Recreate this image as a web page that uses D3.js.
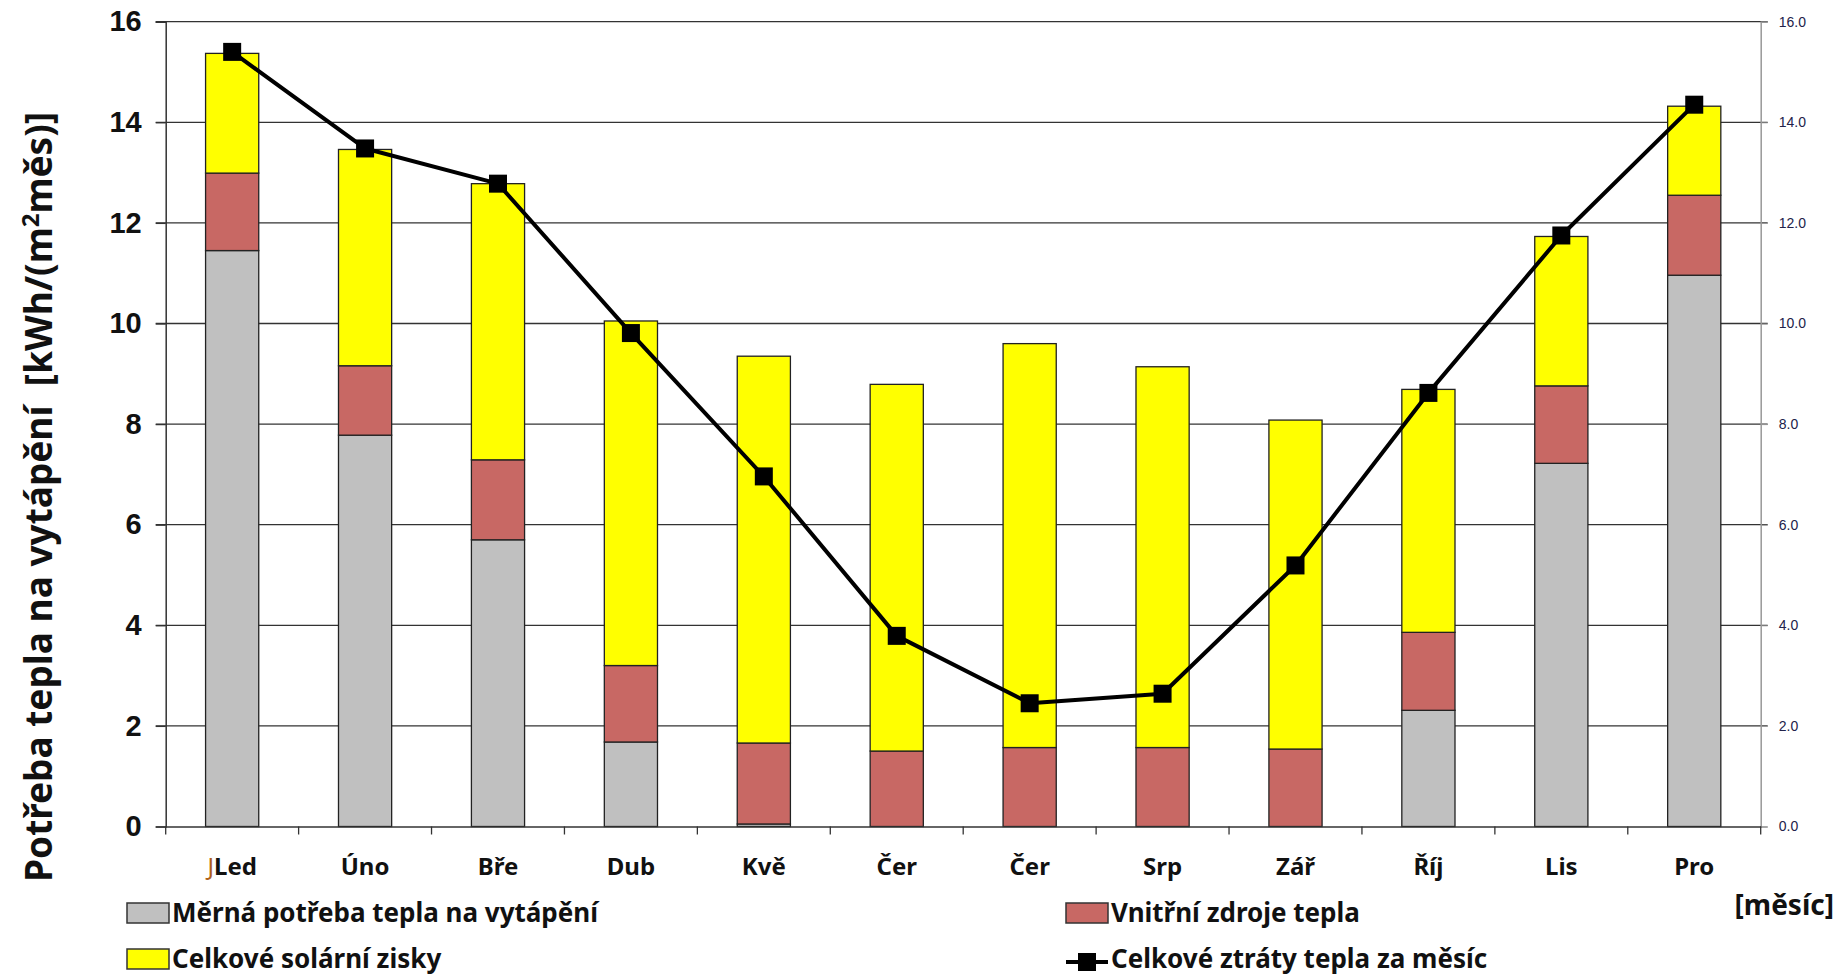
<!DOCTYPE html>
<html><head><meta charset="utf-8">
<script src="https://cdnjs.cloudflare.com/ajax/libs/d3/7.8.5/d3.min.js"></script>
<style>
html,body{margin:0;padding:0;background:#fff;}
svg{display:block;}
</style></head>
<body>
<svg id="chart" width="1841" height="979"></svg>
<script>
// ---- data ----
const months = ["Led","Úno","Bře","Dub","Kvě","Čer","Čer","Srp","Zář","Říj","Lis","Pro"];
const heatDemand = [11.45, 7.78, 5.70, 1.68, 0.05, 0, 0, 0, 0, 2.31, 7.22, 10.96];
const internalGains = [1.54, 1.38, 1.59, 1.52, 1.61, 1.50, 1.57, 1.57, 1.54, 1.55, 1.54, 1.59];
const solarGains = [2.38, 4.30, 5.49, 6.85, 7.69, 7.29, 8.03, 7.57, 6.54, 4.83, 2.97, 1.77];
const totalLosses = [15.40, 13.48, 12.78, 9.81, 6.96, 3.79, 2.45, 2.64, 5.19, 8.62, 11.75, 14.35];
const leftTicks = [0, 2, 4, 6, 8, 10, 12, 14, 16];
const rightTicks = [0, 2, 4, 6, 8, 10, 12, 14, 16];
const seriesNames = ["Měrná potřeba tepla na vytápění", "Vnitřní zdroje tepla", "Celkové solární zisky", "Celkové ztráty tepla za měsíc"];
const seriesColors = ["#C0C0C0", "#C86864", "#FFFF00", "#000000"];

(function(){
// ---- layout ----
const svg = d3.select("#chart");
const pL = 165.7, pR = 1760.7, pT = 21.7, pB = 826.5;
const narrow = "'Liberation Sans Narrow','Arial Narrow','Noto Sans',sans-serif";
const arial = "'Liberation Sans',Arial,sans-serif";

const idx = d3.range(months.length);
const x = d3.scaleBand().domain(idx).range([pL, pR]).padding(0);
const y = d3.scaleLinear().domain([0, 16]).range([pB, pT]);
const y2 = d3.scaleLinear().domain([0, 16]).range([pB, pT]);
const barW = x.bandwidth() * 0.4;

// gridlines
svg.append("g").selectAll("line").data(leftTicks.slice(1)).join("line")
  .attr("x1", pL - 10).attr("x2", pR + 7)
  .attr("y1", d => y(d)).attr("y2", d => y(d))
  .attr("stroke", "#333").attr("stroke-width", 1.3);

// stacked bars
const stackData = idx.map(i => ({i, a: heatDemand[i], b: internalGains[i], c: solarGains[i]}));
const stack = d3.stack().keys(["a","b","c"])(stackData);
svg.append("g").selectAll("g").data(stack).join("g")
  .attr("fill", (d, k) => seriesColors[k])
  .selectAll("rect").data(d => d).join("rect")
  .attr("x", d => x(d.data.i) + x.bandwidth()/2 - barW/2)
  .attr("width", barW)
  .attr("y", d => y(d[1]))
  .attr("height", d => Math.max(0, y(d[0]) - y(d[1])))
  .attr("stroke", "#222").attr("stroke-width", 1.3)
  .attr("display", d => (d[1]-d[0]) > 0 ? null : "none");

// left axis
const yAxis = d3.axisLeft(y).tickValues(leftTicks).tickSize(10).tickFormat(d3.format("d"));
const gy = svg.append("g").attr("transform", `translate(${pL},0)`).call(yAxis);
gy.select(".domain").attr("stroke", "#333").attr("stroke-width", 1.5);
gy.selectAll(".tick line").attr("stroke", "#333").attr("stroke-width", 1.3);
gy.selectAll(".tick text").attr("font-family", arial).attr("font-weight", "bold")
  .attr("font-size", 29).attr("fill", "#111").attr("x", -24);

// right axis
const yAxisR = d3.axisRight(y2).tickValues(rightTicks).tickSize(7).tickFormat(d3.format(".1f"));
const gr = svg.append("g").attr("transform", `translate(${pR},0)`).call(yAxisR);
gr.select(".domain").attr("stroke", "#999").attr("stroke-width", 1.5);
gr.selectAll(".tick line").attr("stroke", "#999");
gr.selectAll(".tick text").attr("font-family", arial).attr("font-size", 14)
  .attr("fill", "#22224a").attr("x", 18);

// x axis
const xAxis = d3.axisBottom(x).tickSize(0).tickFormat(i => months[i]);
const gx = svg.append("g").attr("transform", `translate(0,${pB})`).call(xAxis);
gx.select(".domain").attr("stroke", "#333").attr("stroke-width", 1.5);
gx.selectAll(".tick text").attr("font-family", narrow).attr("font-weight", "bold")
  .attr("font-size", 24).attr("fill", "#111").attr("y", 31).attr("dy", "0.71em");
gx.selectAll(".tick").filter(i => i === 0).select("text").each(function() {
  const t = d3.select(this); const txt = t.text(); t.text("");
  t.append("tspan").attr("font-weight", "normal").attr("fill", "#b0601a").text("J");
  t.append("tspan").text(txt);
});
// x tick marks at category boundaries
svg.append("g").selectAll("line").data(d3.range(months.length + 1)).join("line")
  .attr("x1", i => pL + i * x.step()).attr("x2", i => pL + i * x.step())
  .attr("y1", pB).attr("y2", pB + 8)
  .attr("stroke", "#333").attr("stroke-width", 1.3);

// line series
const line = d3.line().x((d, i) => x(i) + x.bandwidth()/2).y(d => y2(d));
svg.append("path").datum(totalLosses).attr("d", line)
  .attr("fill", "none").attr("stroke", "#000").attr("stroke-width", 4).attr("stroke-linejoin", "round");
const ms = 18;
svg.append("g").selectAll("rect").data(totalLosses).join("rect")
  .attr("x", (d, i) => x(i) + x.bandwidth()/2 - ms/2)
  .attr("y", d => y2(d) - ms/2)
  .attr("width", ms).attr("height", ms).attr("fill", "#000");

// y title
svg.append("text")
  .attr("transform", "translate(52,497) rotate(-90)")
  .attr("text-anchor", "middle")
  .attr("font-family", narrow).attr("font-weight", "bold").attr("font-size", 37).attr("fill", "#111")
  .call(t => {
    t.append("tspan").text("Potřeba tepla na vytápění\u00A0\u00A0[kWh/(m");
    t.append("tspan").attr("font-size", 24).attr("dy", -13).text("2");
    t.append("tspan").attr("dy", 13).text("měs)]");
  });

// x title
svg.append("text").attr("x", 1834).attr("y", 915).attr("text-anchor", "end")
  .attr("font-family", narrow).attr("font-weight", "bold").attr("font-size", 28).attr("fill", "#111")
  .text("[měsíc]");

// legend
const legend = [
  {k: 0, bx: 127, cy: 913},
  {k: 1, bx: 1066, cy: 913},
  {k: 2, bx: 127, cy: 959},
  {k: 3, bx: 1066, cy: 959}
];
const lg = svg.append("g").selectAll("g").data(legend).join("g");
lg.filter(d => d.k < 3).append("rect")
  .attr("x", d => d.bx).attr("y", d => d.cy - 10).attr("width", 42).attr("height", 20)
  .attr("fill", d => seriesColors[d.k]).attr("stroke", "#333").attr("stroke-width", 1.5);
lg.filter(d => d.k === 3).append("line")
  .attr("x1", d => d.bx).attr("x2", d => d.bx + 42).attr("y1", d => d.cy + 3).attr("y2", d => d.cy + 3)
  .attr("stroke", "#000").attr("stroke-width", 4);
lg.filter(d => d.k === 3).append("rect")
  .attr("x", d => d.bx + 21 - 9).attr("y", d => d.cy + 3 - 9).attr("width", 18).attr("height", 18).attr("fill", "#000");
lg.append("text").attr("x", d => d.bx + 45).attr("y", d => d.cy).attr("dy", "0.35em")
  .attr("font-family", narrow).attr("font-weight", "bold").attr("font-size", 26).attr("fill", "#111")
  .text(d => seriesNames[d.k]);
})();
</script>
</body></html>
